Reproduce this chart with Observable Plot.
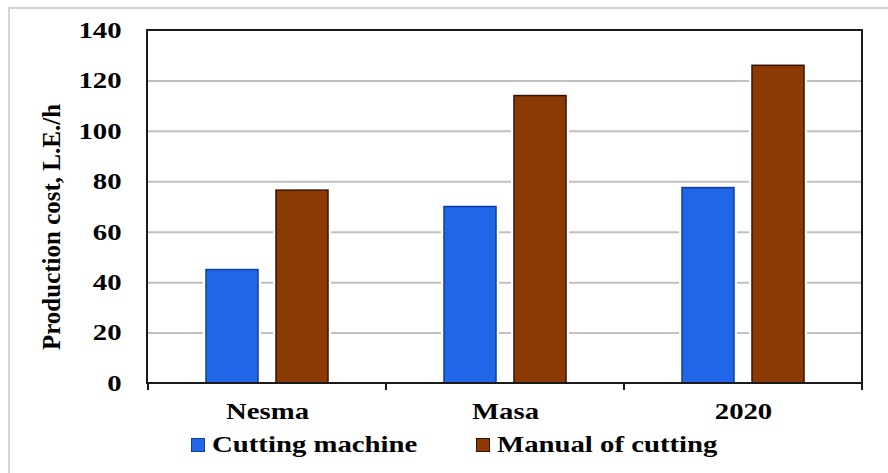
<!DOCTYPE html>
<html>
<head>
<meta charset="utf-8">
<script src="https://cdn.jsdelivr.net/npm/d3@7"></script>
<script src="https://cdn.jsdelivr.net/npm/@observablehq/plot@0.6"></script>
<style>
  html, body { margin: 0; padding: 0; background: #fff; overflow: hidden; }
  #page { position: relative; width: 888px; height: 473px; overflow: hidden; }
  #edge { position: absolute; left: 8px; top: 7px; width: 1000px; height: 1000px;
          border-left: 2px solid #d4d4d4; border-top: 2px solid #d4d4d4; }
  #chart { position: absolute; left: 0; top: 0; }
  #legend { position: absolute; left: 0; top: 420px; width: 888px; height: 53px;
            font-family: "Liberation Serif", "Times New Roman", serif; font-weight: bold;
            font-size: 23px; color: #000; }
  .item { position: absolute; top: 13px; display: flex; align-items: center; line-height: 24px; }
  .swatch { width: 14px; height: 14px; margin-right: 7px; box-sizing: border-box; border: 1px solid; }
  .label { display: inline-block; white-space: nowrap; transform: scaleX(1.25); transform-origin: left center; }
</style>
</head>
<body>
<div id="page">
  <div id="edge"></div>
  <div id="chart"></div>
  <div id="legend"></div>
</div>
<script>
// Production cost per hour for three varieties, machine vs. manual cutting
const categories = ["Nesma", "Masa", "2020"];
const seriesNames = ["Cutting machine", "Manual of cutting"];
const cuttingMachine = [45, 70, 77.5];
const manualCutting = [76.5, 114, 126];
const yTicks = [0, 20, 40, 60, 80, 100, 120, 140];
const yTitle = "Production cost, L.E./h";
const seriesFill = ["#1f66e8", "#8b3a03"];
const seriesEdge = ["#0d3f9e", "#3a1100"];

const rows = categories.flatMap((c, i) => [
  {category: c, series: seriesNames[0], value: cuttingMachine[i]},
  {category: c, series: seriesNames[1], value: manualCutting[i]}
]);

const serif = "'Liberation Serif', 'Times New Roman', serif";

const chart = Plot.plot({
  width: 888,
  height: 420,
  marginLeft: 147,
  marginRight: 26,
  marginTop: 30,
  marginBottom: 37,
  style: {fontFamily: serif, background: "transparent", color: "#000", overflow: "visible"},
  fx: {domain: categories, padding: 0, label: null},
  x: {domain: seriesNames, paddingInner: 0.26, paddingOuter: 0.83, axis: null},
  y: {domain: [0, 140], label: null},
  marks: [
    Plot.gridY(yTicks.slice(1, -1), {stroke: "#c0c0c0", strokeOpacity: 1, strokeWidth: 2}),
    Plot.axisY(yTicks, {tickSize: 0, tickPadding: 27, fontSize: 23, fontWeight: "bold", label: null}),
    Plot.axisFx({anchor: "bottom", tickSize: 0, tickPadding: 19, fontSize: 23, fontWeight: "bold", label: null}),
    Plot.text([yTitle], {fx: [categories[0]], text: d => d, frameAnchor: "left", dx: -97, dy: 20,
                         rotate: -90, fontSize: 25, fontWeight: "bold", fill: "#000",
                         lineAnchor: "middle", textAnchor: "middle"}),
    // white halo around each bar
    Plot.barY(rows, {fx: "category", x: "series", y: "value", fill: "#fff", stroke: "#fff", strokeWidth: 6}),
    ...seriesNames.map((s, k) =>
      Plot.barY(rows.filter(r => r.series === s),
        {fx: "category", x: "series", y: "value", fill: seriesFill[k], stroke: seriesEdge[k], strokeWidth: 1.5}))
  ]
});

const svg = d3.select(chart);

// widen the horizontal axis labels about their anchor point
function widen(sel, k) {
  sel.each(function() {
    const t = this.getAttribute("transform") || "";
    const x = this.getAttribute("x");
    if (x != null && isFinite(+x)) this.setAttribute("x", +x / k);
    this.setAttribute("transform", `${t} scale(${k},1)`);
  });
}
widen(svg.selectAll('[aria-label="y-axis tick label"] text'), 1.25);
widen(svg.selectAll('[aria-label="fx-axis tick label"] text'), 1.25);

// plot frame and the category boundary ticks
const fxScale = chart.scale("fx");
const yScale = chart.scale("y");
const frameLeft = fxScale.range[0], frameRight = fxScale.range[1];
const frameTop = yScale.apply(140), frameBottom = yScale.apply(0);
const frameG = svg.append("g")
  .attr("fill", "none").attr("stroke", "#1a1a1a").attr("stroke-width", 2);
frameG.append("rect")
  .attr("x", frameLeft).attr("y", frameTop)
  .attr("width", frameRight - frameLeft).attr("height", frameBottom - frameTop);
categories.map(c => fxScale.apply(c)).concat([frameRight]).forEach(bx => {
  frameG.append("line").attr("x1", bx).attr("x2", bx).attr("y1", frameBottom).attr("y2", frameBottom + 7);
});

document.getElementById("chart").appendChild(chart);

// legend below the plot
const legend = d3.select("#legend");
const itemLeft = [191, 476];
seriesNames.forEach((s, k) => {
  const item = legend.append("div").attr("class", "item").style("left", itemLeft[k] + "px");
  item.append("div").attr("class", "swatch")
    .style("background", seriesFill[k]).style("border-color", seriesEdge[k]);
  item.append("span").attr("class", "label").text(s);
});
</script>
</body>
</html>
